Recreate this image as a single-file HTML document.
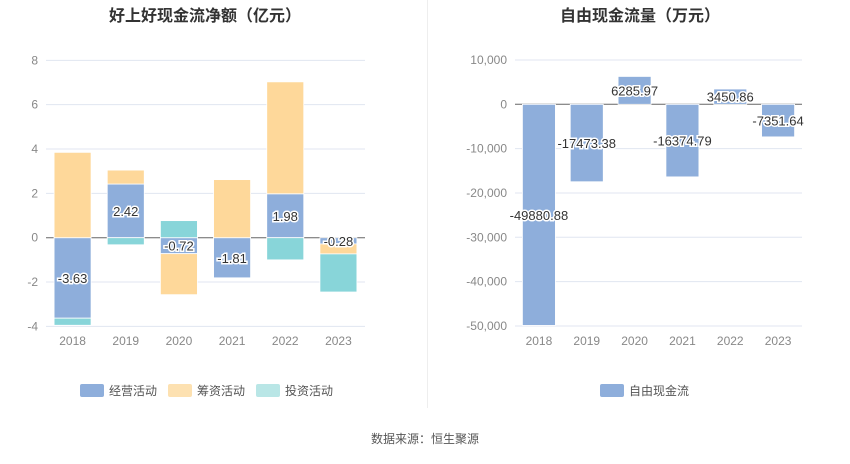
<!DOCTYPE html>
<html><head><meta charset="utf-8"><style>
body{margin:0;background:#fff;font-family:"Liberation Sans","Noto Sans CJK SC",sans-serif;}
svg text{font-family:"Liberation Sans","Noto Sans CJK SC",sans-serif;}
</style></head><body>
<svg id="s" width="850" height="459" xmlns="http://www.w3.org/2000/svg">
<text x="205" y="21" text-anchor="middle" font-size="16" font-weight="bold" fill="#333">好上好现金流净额（亿元）</text>
<text x="640" y="21" text-anchor="middle" font-size="16" font-weight="bold" fill="#333">自由现金流量（万元）</text>
<line x1="427.5" y1="0" x2="427.5" y2="408" stroke="#eee"/>
<g id="L"></g><g id="R"></g>
<g>
<rect x="80" y="384" width="24" height="13" rx="2" fill="#8eaedb"/>
<text x="109" y="395" font-size="12" fill="#555">经营活动</text>
<rect x="168" y="384" width="24" height="13" rx="2" fill="#fde1b1"/>
<text x="197" y="395" font-size="12" fill="#555">筹资活动</text>
<rect x="256" y="384" width="24" height="13" rx="2" fill="#b9e6e6"/>
<text x="285" y="395" font-size="12" fill="#555">投资活动</text>
</g>
<g>
<rect x="600" y="384" width="24" height="13" rx="2" fill="#8eaedb"/>
<text x="629" y="395" font-size="12" fill="#555">自由现金流</text>
</g>
<text x="425" y="443" text-anchor="middle" font-size="12" fill="#555">数据来源：恒生聚源</text>
</svg>
<script>
const years=['2018','2019','2020','2021','2022','2023'];
const operating=[-3.63,2.42,-0.72,-1.81,1.98,-0.28];
const financing=[3.85,0.63,-1.85,2.62,5.05,-0.45];
const investing=[-0.32,-0.32,0.77,0,-1.0,-1.72];
const leftTicks=[8,6,4,2,0,-2,-4];
const fcf=[-49880.88,-17473.38,6285.97,-16374.79,3450.86,-7351.64];
const rightTicks=[10000,0,-10000,-20000,-30000,-40000,-50000];
const NS='http://www.w3.org/2000/svg';
function mk(p,t,a,txt){const e=document.createElementNS(NS,t);for(const k in a)e.setAttribute(k,a[k]);if(txt!=null)e.textContent=txt;p.appendChild(e);return e;}
// left
const L=document.getElementById('L');
const ly=v=>237.7-v*22.17, lx0=46, lw=(365-46)/6;
leftTicks.forEach(t=>{const y=ly(t);
 const g=mk(L,'line',{x1:lx0,x2:365,y1:y,y2:y,stroke:t===0?'#666':'#e0e6f1'});
 
 const tx=mk(L,'text',{x:38,y:y+4,'text-anchor':'end','font-size':12,fill:'#888'},t);
 });
years.forEach((yr,i)=>{const cx=lx0+lw*(i+0.5),bw=37;let pos=0,neg=0;
 [[operating,'#8eaedb','bar-operating'],[financing,'#fed89a','bar-financing'],[investing,'#88d5d9','bar-investing']].forEach(([arr,c,n])=>{
  const v=arr[i];if(!v)return;let a,b;if(v>0){a=pos;b=pos+v;pos=b;}else{a=neg;b=neg+v;neg=b;}
  const y1=ly(Math.max(a,b)),y2=ly(Math.min(a,b));
  const r=mk(L,'rect',{x:cx-bw/2,y:y1,width:bw,height:y2-y1,fill:c,stroke:'#fff','stroke-width':0.8});
  });
 const v=operating[i];const t=mk(L,'text',{x:cx,y:ly(v/2)+5,'text-anchor':'middle','font-size':13,fill:'#333',stroke:'#fff','stroke-width':3,'paint-order':'stroke'},v.toFixed(2));
 
 const xl=mk(L,'text',{x:cx,y:345,'text-anchor':'middle','font-size':12,fill:'#888'},yr);
 });
// right
const R=document.getElementById('R');
const ry=v=>104.3-v*0.004433, rx0=515, rw=(802-515)/6;
rightTicks.forEach(t=>{const y=ry(t);
 const g=mk(R,'line',{x1:rx0,x2:802,y1:y,y2:y,stroke:t===0?'#666':'#e0e6f1'});
 
 const tx=mk(R,'text',{x:507,y:y+4,'text-anchor':'end','font-size':12,fill:'#888'},t.toLocaleString('en-US'));
 });
years.forEach((yr,i)=>{const cx=rx0+rw*(i+0.5),bw=33,v=fcf[i];
 const y1=ry(Math.max(0,v)),y2=ry(Math.min(0,v));
 const r=mk(R,'rect',{x:cx-bw/2,y:y1,width:bw,height:y2-y1,fill:'#8eaedb',stroke:'#fff','stroke-width':0.8});
 
 const t=mk(R,'text',{x:cx,y:ry(v/2)+5,'text-anchor':'middle','font-size':13,fill:'#333',stroke:'#fff','stroke-width':3,'paint-order':'stroke'},v.toFixed(2));
 
 const xl=mk(R,'text',{x:cx,y:345,'text-anchor':'middle','font-size':12,fill:'#888'},yr);
 });
</script>
</body></html>
